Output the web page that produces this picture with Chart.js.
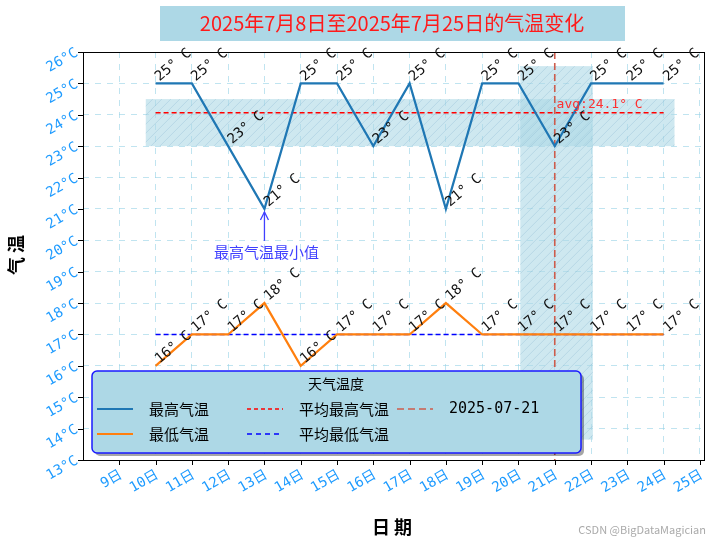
<!DOCTYPE html>
<html><head><meta charset="utf-8">
<script src="https://cdn.jsdelivr.net/npm/chart.js@4/dist/chart.umd.min.js"></script>
<style>html,body{margin:0;padding:0;background:#fff}#c{display:block}</style>
</head><body>
<canvas id="c" width="712" height="542"></canvas>
<script>
const days = [10,11,12,13,14,15,16,17,18,19,20,21,22,23,24];
const highTemps = [25,25,23,21,25,25,23,25,21,25,25,23,25,25,25];
const lowTemps  = [16,17,17,18,16,17,17,17,18,17,17,17,17,17,17];
const xTickDays = [9,10,11,12,13,14,15,16,17,18,19,20,21,22,23,24,25];
const yTicks = [13,14,15,16,17,18,19,20,21,22,23,24,25,26];
const markDay = 21;
const avg = a => a.reduce((s,v)=>s+v,0)/a.length;
const avgHigh = avg(highTemps), avgLow = avg(lowTemps);
const minHigh = Math.min(...highTemps), minHighDay = days[highTemps.indexOf(minHigh)];
const FONT = '"DejaVu Sans Mono","Noto Sans CJK SC",monospace';
const CJK = '"Noto Sans CJK SC",sans-serif';

const deco = {
  id:'deco',
  beforeDatasetsDraw(ch){
    const {ctx,scales:{x,y}} = ch;
    ctx.save();
    const band=(x0,x1,y0,y1)=>{
      const L=x.getPixelForValue(x0),R=x.getPixelForValue(x1),T=y.getPixelForValue(y1),B=y.getPixelForValue(y0);
      ctx.fillStyle='rgba(173,216,230,0.6)';ctx.fillRect(L,T,R-L,B-T);
      ctx.save();ctx.beginPath();ctx.rect(L,T,R-L,B-T);ctx.clip();
      ctx.strokeStyle='rgba(120,170,200,0.35)';ctx.lineWidth=0.8;
      for(let k=-400;k<800;k+=9){ctx.beginPath();ctx.moveTo(L+k,B);ctx.lineTo(L+k+(B-T),T);ctx.stroke();}
      ctx.restore();
    };
    band(9.73,24.3,23,24.5);
    band(20.05,22.05,13.65,25.55);
    const hl=(v,c)=>{ctx.strokeStyle=c;ctx.lineWidth=1.4;ctx.setLineDash([5,3]);ctx.beginPath();
      ctx.moveTo(x.getPixelForValue(days[0]),y.getPixelForValue(v));ctx.lineTo(x.getPixelForValue(days[days.length-1]),y.getPixelForValue(v));ctx.stroke();};
    hl(avgHigh,'#ff0000');hl(avgLow,'#0000ff');
    ctx.strokeStyle='#cd5c4c';ctx.lineWidth=1.6;ctx.setLineDash([7,4]);ctx.beginPath();
    ctx.moveTo(x.getPixelForValue(markDay),y.top);ctx.lineTo(x.getPixelForValue(markDay),y.bottom);ctx.stroke();
    ctx.restore();
  },
  afterDraw(ch){
    const {ctx,scales:{x,y},chartArea:a} = ch;
    ctx.save();
    ctx.strokeStyle='#000';ctx.lineWidth=1;ctx.setLineDash([]);
    ctx.strokeRect(a.left+0.5,a.top+0.5,a.right-a.left-1,a.bottom-a.top);
    ctx.beginPath();
    xTickDays.forEach(d=>{const px=Math.round(x.getPixelForValue(d))+0.5;ctx.moveTo(px,a.bottom);ctx.lineTo(px,a.bottom+5);});
    yTicks.forEach(v=>{const py=Math.round(y.getPixelForValue(v))+0.5;ctx.moveTo(a.left,py);ctx.lineTo(a.left-5,py);});
    ctx.stroke();
    ctx.fillStyle='#1e9bff';ctx.font='14px '+FONT;
    xTickDays.forEach(d=>{ctx.save();ctx.translate(x.getPixelForValue(d)+2,a.bottom+14);ctx.rotate(-Math.PI/6);
      ctx.textAlign='right';ctx.textBaseline='middle';ctx.fillText(d+'日',0,0);ctx.restore();});
    yTicks.forEach(v=>{ctx.save();ctx.translate(a.left-6,y.getPixelForValue(v));ctx.rotate(-Math.PI/6);
      ctx.textAlign='right';ctx.textBaseline='middle';ctx.fillText(v+'°C',0,0);ctx.restore();});
    ctx.fillStyle='#000';ctx.font='bold 18px '+CJK;ctx.textAlign='center';ctx.textBaseline='middle';
    ctx.fillText('日 期',392,527);
    ctx.save();ctx.translate(16,255);ctx.rotate(-Math.PI/2);ctx.fillText('气 温',0,0);ctx.restore();
    ctx.font='14px '+FONT;ctx.fillStyle='#111';ctx.textAlign='left';ctx.textBaseline='alphabetic';
    const lab=(d,v)=>{ctx.save();ctx.translate(x.getPixelForValue(d)+4,y.getPixelForValue(v)-2);ctx.rotate(-Math.PI/4.5);
      ctx.fillText(v+'° C',0,0);ctx.restore();};
    days.forEach((d,i)=>{lab(d,highTemps[i]);lab(d,lowTemps[i]);});
    ctx.fillStyle='#ff3030';ctx.font='13px '+FONT;
    ctx.fillText('avg:'+avgHigh.toFixed(1)+'° C',x.getPixelForValue(21.05),y.getPixelForValue(avgHigh)-5);
    const ax=x.getPixelForValue(minHighDay),ay=y.getPixelForValue(minHigh);
    ctx.strokeStyle='#4040ff';ctx.fillStyle='#4040ff';ctx.lineWidth=1.3;
    ctx.beginPath();ctx.moveTo(ax,ay+32);ctx.lineTo(ax,ay+3);ctx.stroke();
    ctx.beginPath();ctx.moveTo(ax-4,ay+11);ctx.lineTo(ax,ay+3);ctx.lineTo(ax+4,ay+11);ctx.stroke();
    ctx.font='15px '+CJK;ctx.textAlign='center';ctx.textBaseline='middle';
    ctx.fillText('最高气温最小值',ax+2,ay+43);
    const LX=92,LY=371,LW=489,LH=82;
    ctx.fillStyle='rgba(0,0,0,0.35)';ctx.beginPath();ctx.roundRect(LX+3,LY+3,LW,LH,5);ctx.fill();
    ctx.fillStyle='#add8e6';ctx.strokeStyle='#1a1aff';ctx.lineWidth=1.5;
    ctx.beginPath();ctx.roundRect(LX,LY,LW,LH,5);ctx.fill();ctx.stroke();
    ctx.fillStyle='#000';ctx.font='14px '+CJK;ctx.textAlign='center';
    ctx.fillText('天气温度',LX+244,LY+13);
    const items=[['最高气温','#1f77b4',[],2.2,0,0],['最低气温','#ff7f0e',[],2.2,0,1],
      ['平均最高气温','#ff0000',[4,3],1.4,1,0],['平均最低气温','#0000ff',[5,4],1.4,1,1],['2025-07-21','#cd5c4c',[7,4],1.6,2,0]];
    const colX=[LX+5,LX+155,LX+305];
    items.forEach(([t,c,dash,w,col,row])=>{
      const yy=LY+38+row*25, xx=colX[col];
      ctx.strokeStyle=c;ctx.lineWidth=w;ctx.setLineDash(dash);ctx.beginPath();ctx.moveTo(xx,yy);ctx.lineTo(xx+36,yy);ctx.stroke();
      ctx.setLineDash([]);ctx.fillStyle='#000';ctx.textAlign='left';
      ctx.font=(col===2?'15px '+FONT:'15px '+CJK);ctx.fillText(t,xx+52,yy);
    });
    ctx.fillStyle='#add8e6';ctx.fillRect(160,6,465,35);
    ctx.fillStyle='#ff1a1a';ctx.font='20px '+CJK;ctx.textAlign='center';ctx.textBaseline='middle';
    ctx.fillText('2025年7月8日至2025年7月25日的气温变化',392,23);
    ctx.fillStyle='#aaa';ctx.font='11px '+CJK;ctx.textAlign='right';
    ctx.fillText('CSDN @BigDataMagician',706,530);
    ctx.restore();
  }
};

new Chart(document.getElementById('c'),{
  type:'line',
  data:{datasets:[
    {label:'最高气温',data:days.map((d,i)=>({x:d,y:highTemps[i]})),borderColor:'#1f77b4',borderWidth:2.2,pointRadius:0,tension:0},
    {label:'最低气温',data:days.map((d,i)=>({x:d,y:lowTemps[i]})),borderColor:'#ff7f0e',borderWidth:2.2,pointRadius:0,tension:0}
  ]},
  options:{
    responsive:false,animation:false,
    layout:{padding:{left:0,right:7,top:52,bottom:0}},
    plugins:{legend:{display:false},tooltip:{enabled:false},title:{display:false}},
    scales:{
      x:{type:'linear',min:8.0,max:25.14,
        afterBuildTicks:s=>{s.ticks=xTickDays.map(v=>({value:v}));},
        afterFit:s=>{s.height=82;},
        ticks:{color:'rgba(0,0,0,0)',maxRotation:0,autoSkip:false},
        grid:{color:'rgba(150,210,230,0.6)',drawTicks:false,tickLength:0},border:{display:false,dash:[6,6]}},
      y:{min:13,max:26,
        afterBuildTicks:s=>{s.ticks=yTicks.map(v=>({value:v}));},
        afterFit:s=>{s.width=83;},
        ticks:{color:'rgba(0,0,0,0)'},
        grid:{color:'rgba(150,210,230,0.6)',drawTicks:false,tickLength:0},border:{display:false,dash:[6,6]}}
    }
  },
  plugins:[deco]
});
</script>
</body></html>
